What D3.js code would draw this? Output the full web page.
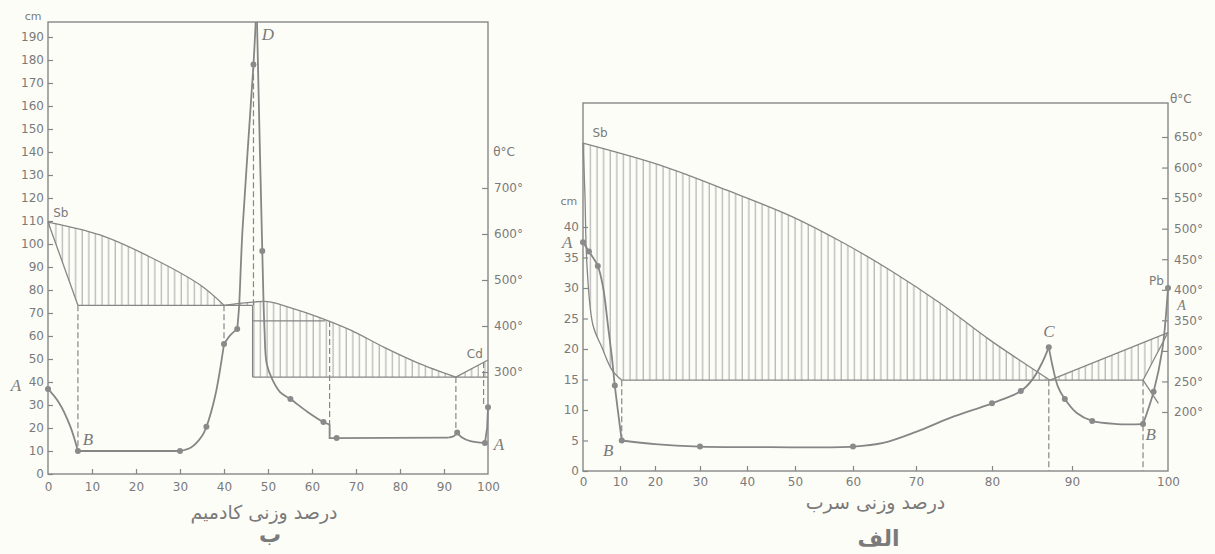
<!DOCTYPE html>
<html>
<head>
<meta charset="utf-8">
<script src="https://cdn.jsdelivr.net/npm/d3@7/dist/d3.min.js"></script>
<style>
    body { margin: 0; background: #fdfdf8; }
    svg { display: block; }
    text { font-family: "DejaVu Sans", sans-serif; fill: #7a7a7a; }
    .letter { font-family: "Liberation Serif", serif; font-style: italic; font-size: 17px; fill: #7a7a7a; }
</style>
</head>
<body>
<svg id="chart" width="1215" height="554"></svg>
<script>
// ---------- left panel (ب) : Sb - Cd ----------
const cdTicksCm = d3.range(0, 191, 10);
const cdTicksX = d3.range(0, 101, 10);
const cdTicksT = [300, 400, 500, 600, 700];

// conductivity curve (wt% Cd, cm)
const cdCurveAB = [[0, 37], [2.5, 31], [5, 21], [6.8, 10]];
const cdCurveFlat = [[6.8, 10], [30, 10]];
const cdCurveRise = [[30, 10], [32.5, 11.5], [35, 16.5], [36, 20.5], [38, 34], [40, 56.5]];
const cdCurveKnee = [[40, 56.5], [41.5, 60.5], [43, 63]];
const cdCurvePeak = [[43, 63], [43.4, 72], [44.2, 106], [46.7, 178], [47.2, 196.5]];
const cdCurveFall = [[47.5, 196.5], [48.7, 97], [49.2, 63], [49.7, 48], [51, 41], [52.8, 35.5], [55.1, 32.6], [59, 27], [62.6, 22.6], [64, 21.5]];
const cdCurveStep = [[64, 21.5], [64, 15.6], [91, 15.8]];
const cdCurveBump = [[91, 15.8], [92.3, 16.5], [93, 18]];
const cdCurveTail = [[93, 18], [94, 16], [96, 14.3], [99.3, 13.5]];
const cdCurveEnd = [[99.3, 13.5], [99.8, 20], [100, 29]];
const cdDots = [[0, 37], [6.8, 10], [30, 10], [36, 20.5], [40, 56.5], [43, 63], [46.7, 178], [48.7, 97], [55.1, 32.6], [62.6, 22.6], [65.6, 15.6], [93, 18], [99.3, 13.5], [100, 29]];

// phase diagram (wt% Cd, °C)
const cdLiqSb = [[0, 626], [11.8, 598], [23.2, 550], [34.6, 489], [40, 445]];
const cdLiqMid = [[40, 445], [46.5, 452], [50, 453], [55, 440], [61.3, 420], [68.8, 391], [76.3, 354], [84, 320], [92.7, 289]];
const cdLiqCd = [[92.7, 289], [100, 326]];
const cdSolSb = [[0, 626], [6.8, 445]];
const cdEut1 = [[6.8, 445], [46.5, 445]];
const cdInner = [[46.5, 411], [63, 411]];
const cdWall = [[46.5, 445], [46.5, 289]];
const cdEut2 = [[46.5, 289], [100, 289]];
// dashed drops: from temperature t to conductivity cm at x
const cdDrops = [
    { x: 6.8, t: 445, cm: 10 }, { x: 40, t: 445, cm: 56.5 }, { x: 46.7, t: 445, cm: 178 },
    { x: 64, t: 411, cm: 15.6 }, { x: 92.7, t: 289, cm: 18 }, { x: 99, t: 322, cm: 30 }
];

// ---------- right panel (الف) : Sb - Pb ----------
const pbTicksCm = d3.range(0, 41, 5);
const pbTicksX = d3.range(0, 101, 10);
const pbTicksT = d3.range(200, 651, 50);

const pbCurveA = [[0, 37.5], [1.6, 36], [4, 33.6], [5.4, 30.2], [6.8, 23.6], [7.8, 18.7], [8.6, 14], [10.5, 5]];
const pbCurveMid = [[10.5, 5], [20, 4.4], [30, 4], [45, 3.9], [60, 4], [64.8, 4.6], [70, 6.4], [74.5, 8.7], [80, 11.1], [83.6, 13.1], [85, 14.9], [86.25, 17.7], [87.1, 20.3]];
const pbCurveC = [[87.1, 20.3], [87.6, 17], [88.25, 13.8], [89.1, 11.8], [90.5, 9.5], [92.1, 8.2], [94.7, 7.7], [97.4, 7.7]];
const pbCurveEnd = [[97.4, 7.7], [98.5, 13], [99.4, 19.8], [100, 30]];
const pbDots = [[0, 37.5], [1.6, 36], [4, 33.6], [8.6, 14], [10.5, 5], [30, 4], [60, 4], [80, 11.1], [83.6, 13.1], [87.1, 20.3], [89.1, 11.8], [92.1, 8.2], [97.4, 7.7], [98.5, 13], [100, 30]];

const pbLiqSb = [[0, 640], [21.1, 604], [35.7, 563], [49.6, 519], [58.3, 477], [65.9, 432], [73.2, 378], [79.7, 318], [87.25, 252]];
const pbLiqPb = [[87.25, 252], [100, 330]];
const pbSolSb = [[0, 640], [0.5, 560], [1.1, 437], [2.7, 342], [5.1, 306], [7.8, 269], [10.5, 252]];
const pbEut = [[10.5, 252], [97.4, 252]];
const pbSolPb = [[97.4, 252], [100, 330]];
const pbSolvus = [[97.4, 252], [99, 214]];
const pbDrops = [{ x: 10.5, t: 252, cm: 5 }, { x: 87.1, t: 252, cm: 0 }, { x: 97.4, t: 252, cm: 0 }];

// ---------- layout ----------
const INK = '#868686';
const svg = d3.select('#chart');

const defs = svg.append('defs');
defs.append('pattern')
    .attr('id', 'hatch')
    .attr('patternUnits', 'userSpaceOnUse')
    .attr('width', 6.6).attr('height', 10)
    .append('line')
    .attr('x1', 3).attr('x2', 3).attr('y1', 0).attr('y2', 10)
    .attr('stroke', '#959595').attr('stroke-width', 0.9);

function joinPaths(parts) {
    return parts.map((p, i) => i ? p.replace(/^M/, 'L') : p).join('') + 'Z';
}

function drawPanel(p) {
    const g = svg.append('g');
    const lineC = d3.line().x(d => p.x(d[0])).y(d => p.yc(d[1]));
    const lineT = d3.line().x(d => p.x(d[0])).y(d => p.yt(d[1]));
    const smoothC = d3.line().x(d => p.x(d[0])).y(d => p.yc(d[1])).curve(d3.curveCatmullRom);
    const smoothT = d3.line().x(d => p.x(d[0])).y(d => p.yt(d[1])).curve(d3.curveCatmullRom);

    // hatched two-phase area
    g.append('path')
        .attr('d', joinPaths(p.hatch.map(s => (s.smooth ? smoothT : lineT)(s.pts))))
        .attr('fill', 'url(#hatch)')
        .attr('stroke', 'none');

    // frame
    g.append('rect')
        .attr('x', p.x0).attr('y', p.yTop)
        .attr('width', p.x1 - p.x0).attr('height', p.yBot - p.yTop)
        .attr('fill', 'none').attr('stroke', INK).attr('stroke-width', 1.4);

    // axes
    const styleAxis = sel => {
        sel.select('.domain').remove();
        sel.selectAll('line').attr('stroke', INK).attr('stroke-width', 1.2);
        sel.selectAll('text').style('font-size', '12px').attr('fill', '#7a7a7a');
    };
    g.append('g').attr('transform', `translate(${p.x0},0)`)
        .call(d3.axisLeft(p.yc).tickValues(p.ticksCm).tickSize(-5).tickPadding(4))
        .call(styleAxis);
    g.append('g').attr('transform', `translate(0,${p.yBot})`)
        .call(d3.axisBottom(p.x).tickValues(p.ticksX).tickSize(-5).tickPadding(p.xPad))
        .call(styleAxis)
        .selectAll('.tick').filter(d => d === 0 || d === 100).select('line').remove();
    g.append('g').attr('transform', `translate(${p.x1},0)`)
        .call(d3.axisRight(p.yt).tickValues(p.ticksT).tickSize(-6).tickPadding(6).tickFormat(d => d + '°'))
        .call(styleAxis);

    // phase lines
    p.phaseLines.forEach(s => {
        g.append('path')
            .attr('d', (s.smooth ? smoothT : lineT)(s.pts))
            .attr('fill', 'none').attr('stroke', INK).attr('stroke-width', 1.3);
    });

    // dashed drops
    g.selectAll('.drop').data(p.drops).enter().append('line')
        .attr('x1', d => p.x(d.x)).attr('x2', d => p.x(d.x))
        .attr('y1', d => p.yt(d.t)).attr('y2', d => p.yc(d.cm))
        .attr('stroke', INK).attr('stroke-width', 1.2).attr('stroke-dasharray', '6,3');

    // conductivity curve
    p.curve.forEach(s => {
        g.append('path')
            .attr('d', (s.smooth ? smoothC : lineC)(s.pts))
            .attr('fill', 'none').attr('stroke', INK).attr('stroke-width', 1.8);
    });
    g.selectAll('.dot').data(p.dots).enter().append('circle')
        .attr('cx', d => p.x(d[0])).attr('cy', d => p.yc(d[1]))
        .attr('r', 3).attr('fill', '#8a8a8a');

    // annotations
    p.notes.forEach(n => {
        g.append('text')
            .attr('class', n.cls || null)
            .attr('x', p.x(n.x)).attr('y', n.t !== undefined ? p.yt(n.t) : p.yc(n.cm))
            .attr('text-anchor', n.anchor || 'middle')
            .attr('dominant-baseline', 'central')
            .style('font-size', n.size ? n.size + 'px' : null)
            .text(n.text);
    });

    // axis title and panel tag, centred under the frame
    const cx = (p.x0 + p.x1) / 2;
    g.append('text')
        .attr('x', cx + p.titleDx).attr('y', p.titleY)
        .attr('text-anchor', 'middle')
        .attr('direction', 'rtl')
        .style('font-size', '19px').attr('fill', '#8a8a8a')
        .text(p.title);
    g.append('text')
        .attr('x', cx + p.tagDx).attr('y', p.tagY)
        .attr('text-anchor', 'middle')
        .attr('direction', 'rtl')
        .style('font-size', '22px').style('font-weight', 'bold').attr('fill', '#111')
        .text(p.tag);
}

// left panel
drawPanel({
    x0: 48, x1: 488, yTop: 22, yBot: 474,
    x: d3.scaleLinear().domain([0, 100]).range([48, 488]),
    yc: d3.scaleLinear().domain([0, 190]).range([474, 37]),
    yt: d3.scaleLinear().domain([300, 700]).range([372, 188]),
    ticksCm: cdTicksCm, ticksX: cdTicksX, ticksT: cdTicksT, xPad: 8,
    hatch: [
        { pts: cdLiqSb, smooth: true }, { pts: cdLiqMid, smooth: true }, { pts: cdLiqCd },
        { pts: [[100, 289], [46.5, 289], [46.5, 445], [6.8, 445], [0, 626]] }
    ],
    phaseLines: [
        { pts: cdLiqSb, smooth: true }, { pts: cdLiqMid, smooth: true }, { pts: cdLiqCd },
        { pts: cdSolSb }, { pts: cdEut1 }, { pts: cdInner }, { pts: cdWall }, { pts: cdEut2 }
    ],
    drops: cdDrops,
    curve: [
        { pts: cdCurveAB, smooth: true }, { pts: cdCurveFlat }, { pts: cdCurveRise, smooth: true },
        { pts: cdCurveKnee, smooth: true }, { pts: cdCurvePeak, smooth: true }, { pts: cdCurveFall, smooth: true },
        { pts: cdCurveStep }, { pts: cdCurveBump, smooth: true }, { pts: cdCurveTail, smooth: true }, { pts: cdCurveEnd }
    ],
    dots: cdDots,
    notes: [
        { text: 'cm', x: -3.4, cm: 199, size: 11 },
        { text: 'Sb', x: 2.9, t: 645, size: 12 },
        { text: 'Cd', x: 97, t: 339, size: 12 },
        { text: 'θ°C', x: 101.2, t: 778, size: 12, anchor: 'start' },
        { text: 'D', x: 50, cm: 191, cls: 'letter' },
        { text: 'A', x: -7.3, cm: 38.3, cls: 'letter' },
        { text: 'B', x: 9.1, cm: 15.2, cls: 'letter' },
        { text: 'A', x: 102.5, cm: 13, cls: 'letter' }
    ],
    title: 'درصد وزنی کادمیم', titleDx: -4, titleY: 519,
    tag: 'ب', tagDx: 2, tagY: 542
});

// right panel: the Pb axis is drawn with uneven spacing in the original
drawPanel({
    x0: 583, x1: 1168, yTop: 103, yBot: 471,
    x: d3.scaleLinear().domain(pbTicksX).range([583, 620, 655, 700, 747, 795, 853, 916, 992, 1072, 1168]),
    yc: d3.scaleLinear().domain([0, 40]).range([471, 227]),
    yt: d3.scaleLinear().domain([200, 650]).range([412, 137]),
    ticksCm: pbTicksCm, ticksX: pbTicksX, ticksT: pbTicksT, xPad: 6,
    hatch: [
        { pts: pbLiqSb, smooth: true }, { pts: pbLiqPb },
        { pts: [[100, 330], [97.4, 252], [10.5, 252]] },
        { pts: pbSolSb.slice().reverse(), smooth: true }
    ],
    phaseLines: [
        { pts: pbLiqSb, smooth: true }, { pts: pbLiqPb }, { pts: pbSolSb, smooth: true },
        { pts: pbEut }, { pts: pbSolPb }, { pts: pbSolvus }
    ],
    drops: pbDrops,
    curve: [
        { pts: pbCurveA, smooth: true }, { pts: pbCurveMid, smooth: true },
        { pts: pbCurveC, smooth: true }, { pts: pbCurveEnd, smooth: true }
    ],
    dots: pbDots,
    notes: [
        { text: 'cm', x: -3.8, cm: 44.2, size: 11 },
        { text: 'Sb', x: 4.6, t: 656, size: 12 },
        { text: 'Pb', x: 98.8, t: 414, size: 12 },
        { text: 'θ°C', x: 100.2, t: 712, size: 12, anchor: 'start' },
        { text: 'A', x: -4.3, cm: 37.5, cls: 'letter' },
        { text: 'B', x: 6.8, cm: 3.4, cls: 'letter' },
        { text: 'C', x: 87.1, cm: 22.9, cls: 'letter' },
        { text: 'B', x: 98.2, cm: 6, cls: 'letter' },
        { text: 'A', x: 101.4, cm: 27.2, cls: 'letter', size: 14 }
    ],
    title: 'درصد وزنی سرب', titleDx: 0, titleY: 509,
    tag: 'الف', tagDx: 3, tagY: 546
});
</script>
</body>
</html>
